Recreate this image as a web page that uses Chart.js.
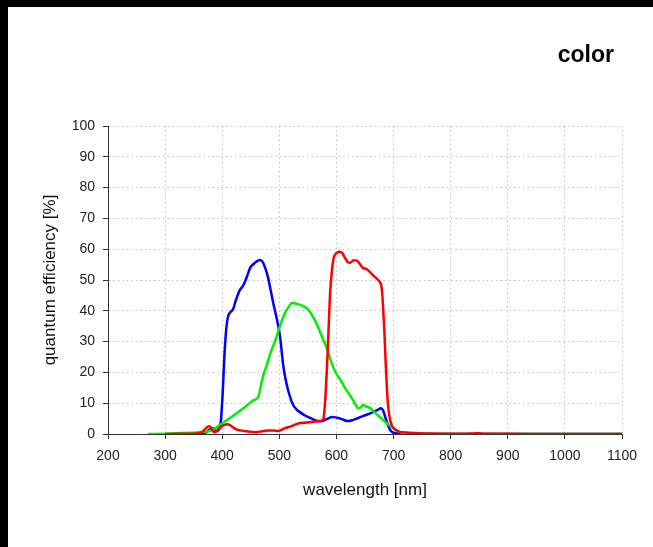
<!DOCTYPE html>
<html>
<head>
<meta charset="utf-8">
<script src="https://cdn.jsdelivr.net/npm/chart.js@4"></script>
<style>
	html, body { margin: 0; padding: 0; background: #000; }
	#wrap { position: absolute; left: 8px; top: 7px; width: 645px; height: 540px; background: #fff; }
	canvas { display: block; }
</style>
</head>
<body>
<div id="wrap"><canvas id="qe"></canvas></div>
<script>
// Quantum efficiency curves
const blueNm = [360, 370, 378, 385, 390, 395, 398, 401, 404, 407, 410, 414, 419, 424, 431, 436, 440, 445, 449, 455, 460, 466, 471, 476, 480, 485, 490, 496, 501, 507, 513, 518, 524, 530, 536, 545, 554, 562, 568, 574, 580, 586, 592, 598, 603, 610, 620, 628, 638, 646, 655, 664, 672, 678, 682, 686, 690, 694, 698, 702, 710, 720, 740, 1100];
const blueQe = [0, 0.3, 1.5, 1.8, 1.0, 1.8, 5, 14, 26, 34, 38, 39.5, 40.5, 43.5, 46.8, 48, 49.5, 52, 54, 55.2, 56, 56.5, 55.8, 53.5, 51, 46.5, 42, 37, 32, 22, 16, 12.5, 9.5, 8, 7.1, 6, 5.2, 4.5, 4.2, 4.1, 4.6, 5.1, 5.5, 5.4, 5.2, 4.8, 4.2, 4.5, 5.2, 5.8, 6.4, 7.1, 7.8, 8.4, 7.5, 5.2, 3.0, 1.3, 0.6, 0.3, 0.1, 0.05, 0, 0];

const greenNm = [270, 300, 330, 360, 375, 385, 391, 400, 420, 440, 455, 463, 467, 471, 478, 484, 495, 501, 510, 516, 522, 530, 536, 541, 551, 559, 568, 577, 583, 588, 594, 600, 608, 615, 628, 634, 638, 642, 647, 652, 659, 667, 676, 685, 692, 697, 704, 711, 720, 740, 760, 800, 1100];
const greenQe = [0, 0.1, 0.3, 0.6, 0.9, 1.5, 2.3, 3.5, 6, 8.8, 11, 12, 15, 18.5, 22.4, 26, 31.5, 35, 39.3, 41.2, 42.5, 42.3, 42, 41.6, 40.3, 38, 34.7, 30.5, 28, 25, 21.8, 19.5, 17.3, 14.9, 11.3, 9.3, 8.3, 8.6, 9.4, 9.0, 8.4, 7.0, 5.5, 4.0, 3.0, 2.3, 1.3, 0.6, 0.4, 0.2, 0.05, 0, 0];

const redNm = [300, 330, 350, 360, 366, 371, 376, 380, 384, 388, 393, 400, 408, 413, 420, 428, 435, 445, 459, 470, 480, 490, 498, 503, 510, 519, 533, 548, 560, 568, 574, 577, 580, 583, 586, 589, 592, 595, 600, 606, 610, 614, 619, 624, 630, 636, 641, 646, 653, 659, 666, 673, 678, 680, 682, 684, 686, 688, 690, 693, 697, 702, 706, 711, 720, 740, 760, 800, 840, 850, 860, 900, 1000, 1100];
const redQe = [0, 0.05, 0.1, 0.3, 0.8, 1.8, 2.5, 2.2, 0.8, 0.6, 1.5, 2.6, 3.2, 3.0, 2.0, 1.3, 1.1, 0.8, 0.6, 0.9, 1.1, 1.1, 1.0, 1.3, 1.9, 2.4, 3.4, 3.7, 4.0, 4.1, 4.4, 4.8, 10, 20, 33, 46, 53, 57, 58.8, 59.2, 58.8, 57.5, 56, 55.6, 56.4, 56.3, 55.2, 54, 53.5, 52.5, 51.2, 50, 48.5, 46, 40, 33, 24, 16, 10, 5.5, 2.8, 1.6, 1.1, 0.7, 0.5, 0.3, 0.15, 0.1, 0.2, 0.25, 0.1, 0.05, 0, 0];

const xTicksMin = 200;
const xTicksMax = 1100;
const yTicksMin = 0;
const yTicksMax = 100;

const chartTitle = 'color';
const xTitle = 'wavelength [nm]';
const yTitle = 'quantum efficiency [%]';

const FONT = '"Liberation Sans", Arial, Helvetica, sans-serif';

function toPoints(xs, ys) {
	return xs.map((x, i) => ({ x, y: ys[i] }));
}

function curve(label, xs, ys, color, order) {
	return {
		label,
		data: toPoints(xs, ys),
		borderColor: color,
		backgroundColor: color,
		borderWidth: 2.5,
		pointRadius: 0,
		cubicInterpolationMode: 'monotone',
		fill: false,
		order
	};
}

// Title drawn at a fixed spot in the top right corner
const cornerTitle = {
	id: 'cornerTitle',
	afterDraw(chart) {
		const ctx = chart.ctx;
		ctx.save();
		ctx.font = 'bold 23px ' + FONT;
		ctx.fillStyle = '#000';
		ctx.textAlign = 'right';
		ctx.textBaseline = 'middle';
		ctx.fillText(chartTitle, 606, 49);
		ctx.restore();
	}
};

const grid = {
	color: 'rgba(0,0,0,0.25)',
	lineWidth: 1,
	tickColor: '#333',
	tickLength: 5,
	tickWidth: 1,
	tickBorderDash: []
};

// v4 puts the grid line dash on the border options
const border = { display: true, color: '#333', width: 1, dash: [1.5, 3] };

const plainNumber = (value) => String(value);

new Chart(document.getElementById('qe'), {
	type: 'line',
	data: {
		datasets: [
			curve('red', redNm, redQe, '#ff0000', 1),
			curve('green', greenNm, greenQe, '#00f000', 2),
			curve('blue', blueNm, blueQe, '#0000ff', 3)
		]
	},
	options: {
		responsive: true,
		maintainAspectRatio: false,
		animation: false,
		layout: {
			padding: { left: 0, top: 119, right: 31, bottom: 0 }
		},
		plugins: {
			legend: { display: false },
			title: { display: false },
			tooltip: { enabled: false }
		},
		scales: {
			x: {
				type: 'linear',
				min: xTicksMin,
				max: xTicksMax,
				grid,
				border,
				ticks: {
					stepSize: 100,
					maxRotation: 0,
					padding: 9,
					color: '#222',
					font: { family: FONT, size: 14 },
					callback: plainNumber
				},
				title: {
					display: true,
					text: xTitle,
					color: '#111',
					font: { family: FONT, size: 17 },
					padding: { top: 0, bottom: 46 }
				},
				afterFit(scale) {
					scale.height = 113;
				}
			},
			y: {
				min: yTicksMin,
				max: yTicksMax,
				grid,
				border,
				ticks: {
					stepSize: 10,
					padding: 8,
					color: '#222',
					font: { family: FONT, size: 14 },
					callback: plainNumber
				},
				title: {
					display: true,
					text: yTitle,
					color: '#111',
					font: { family: FONT, size: 17 },
					padding: { top: 32, bottom: 0 }
				},
				afterFit(scale) {
					scale.width = 100;
				}
			}
		}
	},
	plugins: [cornerTitle]
});
</script>
</body>
</html>
